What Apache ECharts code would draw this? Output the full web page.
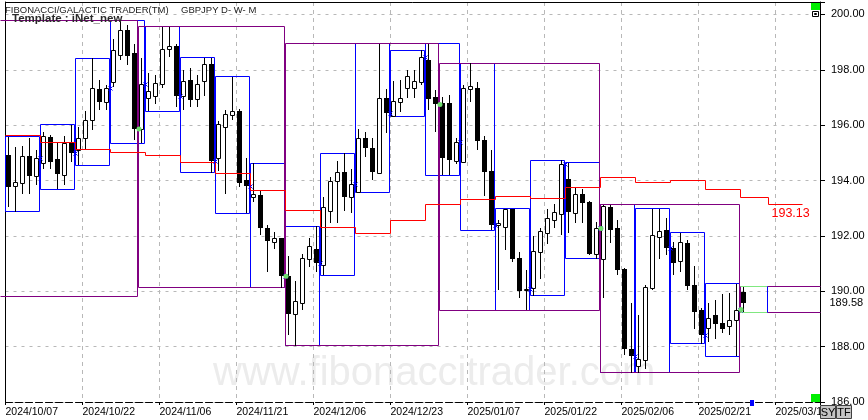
<!DOCTYPE html>
<html><head><meta charset="utf-8">
<script src="https://cdn.jsdelivr.net/npm/echarts@6/dist/echarts.min.js"></script>
<style>html,body{margin:0;padding:0;background:#fff}#c{width:868px;height:420px}</style>
</head><body><div id="c"></div>
<script>
// ---------- data ----------
const dateLabels = ['2024/10/07','2024/10/22','2024/11/06','2024/11/21','2024/12/06','2024/12/23','2025/01/07','2025/01/22','2025/02/06','2025/02/21','2025/03/10'];
const yTicks = [186,188,190,192,194,196,198,200];

const opens = [194.91,193.81,193.91,194.88,194.17, 194.64,195.58,194.77,194.19,195.36, 195.10,195.52,196.18,197.30,196.84, 197.57,198.53,199.43,198.59,195.88, 197.00,197.06,197.48,198.74,198.86, 197.05,197.63,196.96,197.60,198.20, 194.80,195.94,196.36,196.51,194.01, 193.41,193.47,192.27,191.78,191.91, 190.54,189.19,189.56,191.15,191.54, 190.94,192.90,193.99,194.31,193.39, 193.59,195.52,195.19,194.29,197.00, 196.33,196.84,197.33,197.33,197.57, 198.35,197.02,196.81,196.81,194.71, 194.67,197.29,197.36,195.48,194.34, 192.39,192.32,192.99,191.22,190.04, 190.13,191.42,192.12,192.59,192.78, 194.05,192.81,193.53,193.21,191.36, 191.15,193.03,192.27,190.79,187.93, 187.29,187.51,190.13,191.96,192.23, 191.58,191.08,191.76,190.24,189.34, 188.69,189.13,188.85,188.74,188.98, 189.98];
const closes = [193.77,193.95,194.88,194.17,194.80, 195.60,194.67,194.25,195.36,195.01, 195.52,196.18,197.33,196.84,197.36, 198.71,199.43,198.49,195.86,197.50, 197.23,197.51,198.77,198.86,197.05, 197.59,196.90,197.47,198.20,194.71, 196.03,196.39,196.51,193.92,193.81, 193.51,192.30,191.82,191.94,190.54, 189.17,189.64,191.22,191.63,191.02, 193.03,193.99,194.31,193.39,193.86, 195.52,195.16,194.31,197.00,196.44, 196.88,197.00,197.77,197.60,198.45, 196.94,196.75,194.80,194.76,195.38, 197.33,197.41,195.43,194.31,192.41, 192.47,192.99,191.18,190.01,190.10, 191.45,192.17,192.63,192.87,194.58, 192.87,193.53,193.19,191.33,192.27, 193.07,192.23,190.78,187.93,187.66, 187.57,190.16,192.02,192.17,191.58, 191.02,191.78,190.19,189.25,188.41, 189.05,188.83,188.65,188.98,189.34, 189.58];
const lows = [193.05,192.87,193.53,193.53,193.83, 194.40,194.40,193.68,193.83,194.67, 194.55,195.10,195.82,196.54,196.54, 197.38,198.35,198.17,195.46,195.34, 196.51,196.78,197.33,198.47,196.66, 196.54,196.65,196.64,197.06,194.29, 194.35,193.53,196.18,193.77,192.81, 193.23,192.02,190.68,191.54,190.13, 188.41,188.04,189.31,190.88,190.70, 190.57,192.45,192.47,192.90,192.81, 193.57,194.85,194.01,194.25,195.72, 196.31,196.48,197.00,197.00,197.45, 196.54,195.76,194.19,194.19,194.59, 194.62,196.84,195.10,193.43,192.21, 190.04,191.48,191.05,189.74,189.31, 189.83,190.46,191.69,192.27,192.02, 192.11,192.45,192.45,191.30,191.18, 189.76,191.75,190.60,187.69,187.05, 187.05,187.21,190.04,191.15,191.30, 190.58,190.70,190.06,188.65,188.11, 188.17,188.29,188.49,188.41,187.65, 189.25];
const highs = [195.58,195.20,195.24,195.52,195.10, 195.76,195.64,195.34,195.60,196.00, 195.92,196.51,198.41,197.63,197.45, 199.13,199.76,199.61,198.95,198.41, 197.87,197.81,199.55,199.55,198.95, 197.99,198.05,197.80,198.41,198.44, 196.14,196.54,197.75,196.57,194.80, 194.62,193.65,192.39,192.14,191.94, 191.27,190.36,191.36,191.91,192.34, 193.41,194.13,194.71,194.98,194.43, 195.88,195.76,195.52,198.95,197.29, 197.60,197.63,197.99,197.99,198.71, 198.95,197.26,197.02,197.08,195.52, 197.45,198.23,197.57,195.60,195.10, 192.56,192.99,192.99,191.42,190.76, 191.99,192.27,192.99,193.17,194.74, 194.65,193.77,193.68,193.25,192.51, 193.13,193.11,192.57,190.84,189.56, 189.13,190.22,192.99,192.99,192.63, 191.78,192.12,191.84,190.90,189.38, 189.56,189.70,189.89,189.92,190.25, 190.16];

// weekly ranges (bar index of first / last bar of each week)
const weekStart = [0,5,10,15,20,25,30,35,40,45,50,55,60,65,70,75,80,85,90,95,100,105];
const weekEnd   = [4,9,14,19,24,29,34,39,44,49,54,59,64,69,74,79,84,89,94,99,104,108];
const weekHigh  = [195.60,196.03,198.41,199.77,199.58,198.44,197.75,194.62,192.34,194.98,198.95,198.71,198.95,198.23,192.99,194.74,194.65,193.13,192.99,192.12,190.28,190.18];
const weekLow   = [192.87,193.68,194.55,195.34,196.51,194.29,192.81,190.13,188.04,190.57,193.57,196.31,194.19,192.21,189.31,189.83,191.18,187.05,187.05,188.11,187.65,189.25];

// monthly ranges
const monthStart = [-10,19,40,62,85,105];
const monthEnd   = [18,39,61,84,104,200];
const monthHigh  = [199.77,199.55,198.95,198.23,193.13,190.18];
const monthLow   = [189.82,190.13,188.04,189.31,187.05,189.25];

// red step line (one value per week, last two projected)
const redLine  = [195.61,195.37,195.12,195.01,194.92,194.65,194.25,193.64,192.92,192.30,192.09,192.56,193.13,193.33,193.43,193.35,193.76,194.12,193.93,194.00,193.68,193.40,193.13];
const redEdges = [0,5,10,15,20,25,30,35,40,45,50,55,60,65,70,75,80,85,90,95,100,105,109,113.9];
const redLabel = '193.13';
const lastPrice = 189.58;

// ---------- chart ----------
const FONT = '"Liberation Sans", Arial, Helvetica, sans-serif';
const XMAX = 116.36, GRID_R = 820;
const crisp = v => Math.round(v - 0.5) + 0.5;
const seg = (x1, y1, x2, y2, c) => ({type: 'line', shape: {x1, y1, x2, y2}, style: {stroke: c, lineWidth: 1}});

function boxRenderer(hColor, lColor, rColor) {
  return function (params, api) {
    const p0 = api.coord([api.value(0), api.value(2)]);
    const p1 = api.coord([api.value(1), api.value(3)]);
    let L = p0[0], R = p1[0];
    const T = crisp(p0[1]), B = crisp(p1[1]);
    const showL = L >= 0 && lColor, showR = R <= GRID_R && rColor;
    L = crisp(Math.max(L, 0)); R = crisp(Math.min(R, GRID_R));
    const ch = [seg(L, T, R, T, hColor), seg(L, B, R, B, hColor)];
    if (showL) ch.push(seg(L, T, L, B, lColor));
    if (showR) ch.push(seg(R, T, R, B, rColor));
    return {type: 'group', children: ch};
  };
}

const nW = weekStart.length;
const weekBoxes = [];
for (let k = 0; k < nW - 1; k++) weekBoxes.push([weekStart[k] + 0.07, weekEnd[k] + 0.9, weekHigh[k], weekLow[k]]);
const curWeek = [[weekStart[nW - 1] + 0.07, weekEnd[nW - 1] + 0.9, weekHigh[nW - 1], weekLow[nW - 1]]];
const monthBoxes = monthStart.map((s, m) => [s + 0.07, monthEnd[m] + 0.9, monthHigh[m], monthLow[m]]);
const candleData = opens.map((o, i) => [i, o, closes[i], lows[i], highs[i]]);
const redData = redLine.map((v, k) => [redEdges[k], redEdges[k + 1], v, k > 0 ? redLine[k - 1] : v]);
const weekMarks = [];
for (let k = 0; k < nW - 1; k++) weekMarks.push([weekEnd[k] + 0.9, closes[weekEnd[k]]]);
const monthMarks = [];
for (let m = 0; m < monthStart.length - 1; m++) monthMarks.push([monthEnd[m] + 1.07, closes[monthEnd[m]]]);

const option = {
  animation: false,
  backgroundColor: '#ffffff',
  grid: {left: 5.5, right: 868 - GRID_R, top: 2, bottom: 18, containLabel: false},
  xAxis: [{
    type: 'value', min: 0, max: XMAX, interval: 11, position: 'bottom',
    axisLine: {show: true, onZero: false, lineStyle: {color: '#000', width: 1, type: [7, 3]}},
    axisTick: {show: true, length: 3, lineStyle: {color: '#000'}},
    axisLabel: {show: true, align: 'left', margin: 5, color: '#000', fontSize: 10.5, fontFamily: FONT,
      formatter: v => { const k = Math.round(v / 11); return (Math.abs(v - k * 11) < 1e-6 && dateLabels[k]) ? dateLabels[k] : ''; }},
    splitLine: {show: true, lineStyle: {color: '#b8b8b8', width: 1, type: [4, 4]}}
  }, {
    type: 'value', min: 0, max: XMAX, position: 'top',
    axisLine: {show: true, onZero: false, lineStyle: {color: '#000', width: 1}},
    axisTick: {show: false}, axisLabel: {show: false}, splitLine: {show: false}
  }],
  yAxis: [{
    type: 'value', min: 186, max: 200.45, interval: 2, position: 'right',
    axisLine: {show: true, onZero: false, lineStyle: {color: '#000', width: 1}},
    axisTick: {show: true, length: 5, lineStyle: {color: '#000'}},
    axisLabel: {margin: 11, color: '#000', fontSize: 11, fontFamily: FONT,
      formatter: v => yTicks.some(t => Math.abs(t - v) < 1e-6) ? v.toFixed(2) : ''},
    splitLine: {show: true, lineStyle: {color: '#b8b8b8', width: 1, type: [3, 5]}}
  }, {
    type: 'value', min: 186, max: 200.45, position: 'left',
    axisLine: {show: true, onZero: false, lineStyle: {color: '#000', width: 1}},
    axisTick: {show: false}, axisLabel: {show: false}, splitLine: {show: false}
  }],
  graphic: [
    {type: 'text', x: 213, y: 374, z: 0, silent: true,
      style: {text: 'www.fibonaccitrader.com', font: '40px ' + FONT, fill: '#ececec', verticalAlign: 'middle', textVerticalAlign: 'middle'}},
    {type: 'text', x: 5, y: 10.5, z: 100,
      style: {text: 'FIBONACCI/GALACTIC TRADER(TM)', font: '9.5px ' + FONT, fill: '#1a1a1a', verticalAlign: 'middle', textVerticalAlign: 'middle'}},
    {type: 'text', x: 181, y: 10.5, z: 100,
      style: {text: 'GBPJPY D- W- M', font: '9.5px ' + FONT, fill: '#1a1a1a', verticalAlign: 'middle', textVerticalAlign: 'middle'}},
    {type: 'text', x: 12, y: 18.5, z: 100,
      style: {text: 'Template : iNet_new', font: 'bold 11.5px ' + FONT, fill: '#2a2a2a', verticalAlign: 'middle', textVerticalAlign: 'middle'}},
    {type: 'rect', z: 100, shape: {x: 811, y: 3, width: 9, height: 7}, style: {fill: '#00ee00'}},
    {type: 'rect', z: 100, shape: {x: 812.5, y: 11.5, width: 6, height: 5}, style: {fill: '#fff', stroke: '#000', lineWidth: 1}},
    {type: 'rect', z: 100, shape: {x: 814.5, y: 13.5, width: 2, height: 1}, style: {fill: '#fff', stroke: '#000', lineWidth: 1}},
    {type: 'rect', z: 100, shape: {x: 811, y: 394, width: 9, height: 8}, style: {fill: '#00ee00'}},
    {type: 'rect', z: 100, shape: {x: 750, y: 400, width: 4, height: 6}, style: {fill: '#0000ff'}},
    {type: 'rect', z: 100, shape: {x: 820.5, y: 405.5, width: 15, height: 13}, style: {fill: '#c4c4c4', stroke: '#404040', lineWidth: 1}},
    {type: 'rect', z: 100, shape: {x: 836.5, y: 405.5, width: 15, height: 13}, style: {fill: '#c4c4c4', stroke: '#404040', lineWidth: 1}},
    {type: 'text', x: 828, y: 412.5, z: 101,
      style: {text: 'SY', font: '11px ' + FONT, fill: '#000', align: 'center', textAlign: 'center', verticalAlign: 'middle', textVerticalAlign: 'middle'}},
    {type: 'text', x: 844, y: 412.5, z: 101,
      style: {text: 'TF', font: '11px ' + FONT, fill: '#000', align: 'center', textAlign: 'center', verticalAlign: 'middle', textVerticalAlign: 'middle'}}
  ],
  series: [
    {type: 'custom', name: 'weekly', z: 2, clip: false, silent: true, encode: {x: [0, 1], y: [2, 3]},
      data: weekBoxes, renderItem: boxRenderer('#0000ff', '#0000ff', '#0000ff')},
    {type: 'custom', name: 'monthly', z: 3, clip: false, silent: true, encode: {x: [0, 1], y: [2, 3]},
      data: monthBoxes, renderItem: boxRenderer('#800080', '#800080', '#800080')},
    {type: 'custom', name: 'current week', z: 3, clip: false, silent: true, encode: {x: [0, 1], y: [2, 3]},
      data: curWeek, renderItem: boxRenderer('#80e880', null, '#0000ff')},
    {type: 'custom', name: 'candles', z: 4, clip: false, silent: true, encode: {x: 0, y: [1, 2, 3, 4]},
      data: candleData,
      renderItem: function (params, api) {
        const i = api.value(0), o = api.value(1), c = api.value(2), l = api.value(3), h = api.value(4);
        const col = Math.floor(api.coord([i + 0.5, o])[0]);
        const yo = api.coord([0, o])[1], yc = api.coord([0, c])[1];
        const yl = Math.round(api.coord([0, l])[1]), yh = Math.round(api.coord([0, h])[1]);
        const top = Math.round(Math.min(yo, yc)), bot = Math.round(Math.max(yo, yc));
        const ch = [seg(col + 0.5, yh, col + 0.5, yl, '#000')];
        if (c >= o) {
          ch.push({type: 'rect', shape: {x: col - 2 + 0.5, y: top + 0.5, width: 4, height: Math.max(bot - top, 1)},
            style: {fill: '#fff', stroke: '#000', lineWidth: 1}});
        } else {
          ch.push({type: 'rect', shape: {x: col - 2, y: top, width: 5, height: Math.max(bot - top, 1)},
            style: {fill: '#000'}});
        }
        return {type: 'group', children: ch};
      }},
    {type: 'custom', name: 'red line', z: 5, clip: false, silent: true, encode: {x: [0, 1], y: [2, 3]},
      data: redData,
      renderItem: function (params, api) {
        const p0 = api.coord([api.value(0), api.value(2)]);
        const p1 = api.coord([api.value(1), api.value(2)]);
        const pp = api.coord([api.value(0), api.value(3)]);
        const y = crisp(p0[1]), yp = crisp(pp[1]);
        const x0 = crisp(p0[0]), x1 = crisp(p1[0]);
        const ch = [seg(x0, y, x1, y, '#ff0000')];
        if (params.dataIndex > 0) ch.push(seg(x0, yp, x0, y, '#ff0000'));
        return {type: 'group', children: ch};
      }},
    {type: 'custom', name: 'week close', z: 6, clip: false, silent: true, encode: {x: 0, y: 1},
      data: weekMarks,
      renderItem: function (params, api) {
        const p = api.coord([api.value(0), api.value(1)]);
        const x = Math.round(p[0]) + 0.5, y = Math.round(p[1]) + 0.5;
        return {type: 'group', children: [seg(x - 2, y - 2, x + 2, y + 2, '#0000ff'), seg(x - 2, y + 2, x + 2, y - 2, '#0000ff')]};
      }},
    {type: 'custom', name: 'month close', z: 7, clip: false, silent: true, encode: {x: 0, y: 1},
      data: monthMarks,
      renderItem: function (params, api) {
        const p = api.coord([api.value(0), api.value(1)]);
        return {type: 'circle', shape: {cx: p[0], cy: p[1], r: 2.5}, style: {fill: '#6fe06f'}};
      }},
    {type: 'custom', name: 'labels', z: 8, clip: false, silent: true, encode: {x: 0, y: 1},
      data: [[109, redLine[redLine.length - 1]], [XMAX, lastPrice]],
      renderItem: function (params, api) {
        const p = api.coord([api.value(0), api.value(1)]);
        if (params.dataIndex === 0) {
          return {type: 'text', x: p[0] + 3, y: p[1] + 9,
            style: {text: redLabel, font: '12.5px ' + FONT, fill: '#ff0000', verticalAlign: 'middle', textVerticalAlign: 'middle'}};
        }
        return {type: 'text', x: p[0] + 9.5, y: p[1] + 0.5,
          style: {text: lastPrice.toFixed(2), font: '11px ' + FONT, fill: '#000', verticalAlign: 'middle', textVerticalAlign: 'middle'}};
      }}
  ]
};
const chart = echarts.init(document.getElementById('c'), null, {renderer: 'canvas', width: 868, height: 420});
chart.setOption(option);
</script>
</body></html>
